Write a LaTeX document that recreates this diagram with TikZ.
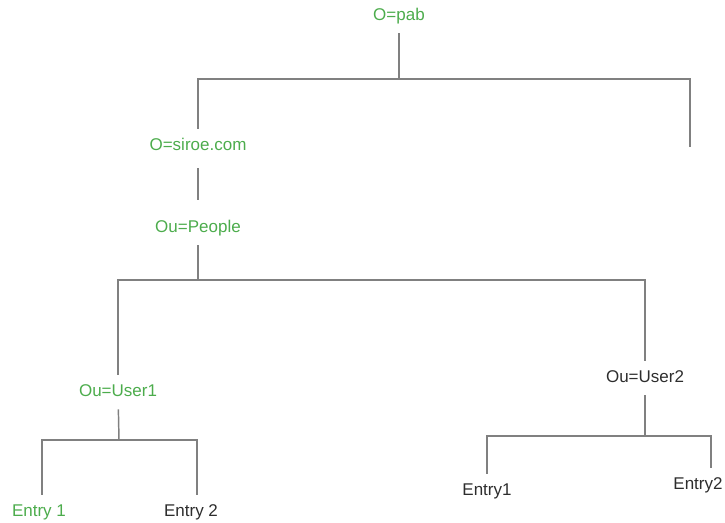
\documentclass[tikz,border=0pt]{standalone}
\usepackage{fontspec}
\setmainfont{Liberation Sans}
\definecolor{dngreen}{RGB}{76,172,76}
\definecolor{dngray}{RGB}{128,128,128}
\definecolor{dntext}{RGB}{45,45,45}

\begin{document}
\begin{tikzpicture}[x=0.75pt, y=-0.75pt,
  dnode/.style={font=\fontsize{12.75}{15}\selectfont, text height=9.2pt,
    text depth=2.7pt, inner xsep=2pt, inner ysep=6.8pt},
  green dnode/.style={dnode, text=dngreen},
  gray dnode/.style={dnode, text=dntext},
  branch/.style={draw=dngray, line width=1.1pt}]
  \useasboundingbox (0,0) rectangle (725,522);

  \node[green dnode] (pab) at (399,16) {O=pab};
  \node[green dnode] (siroe) at (198,146) {O=siroe.com};
  \node[green dnode] (people) at (198,228) {Ou=People};
  \node[green dnode] (user1) at (118,392) {Ou=User1};
  \node[gray dnode] (user2) at (645,378) {Ou=User2};
  \node[green dnode] (entry1) at (39,512) {Entry 1};
  \node[gray dnode] (entry2) at (191,512) {Entry 2};
  \node[gray dnode] (user2 entry1) at (487,491) {Entry1};
  \node[gray dnode] (user2 entry2) at (698,485) {Entry2};

  \coordinate (pab fork) at (399,79);
  \coordinate (pab end) at (690,147);
  \coordinate (people fork) at (198,280);
  \coordinate (user1 fork) at (119,440);
  \coordinate (user2 fork) at (645,436);

  \draw[branch] (pab) -- (pab fork);
  \draw[branch] (siroe) |- (pab fork) -| (pab end);
  \draw[branch, shorten <=3.75pt, shorten >=8.25pt] (siroe) -- (people);
  \draw[branch] (people) -- (people fork);
  \draw[branch] (user1) |- (people fork) -| (user2);
  \draw[branch] (user1) -- (user1 fork);
  \draw[branch] ([xshift=2.25pt]entry1.north) |- (user1 fork)
    -| ([xshift=4.5pt]entry2.north);
  \draw[branch] (user2) -- (user2 fork);
  \draw[branch] (user2 entry1) |- (user2 fork)
    -| ([xshift=9.75pt]user2 entry2.north);
\end{tikzpicture}
\end{document}
